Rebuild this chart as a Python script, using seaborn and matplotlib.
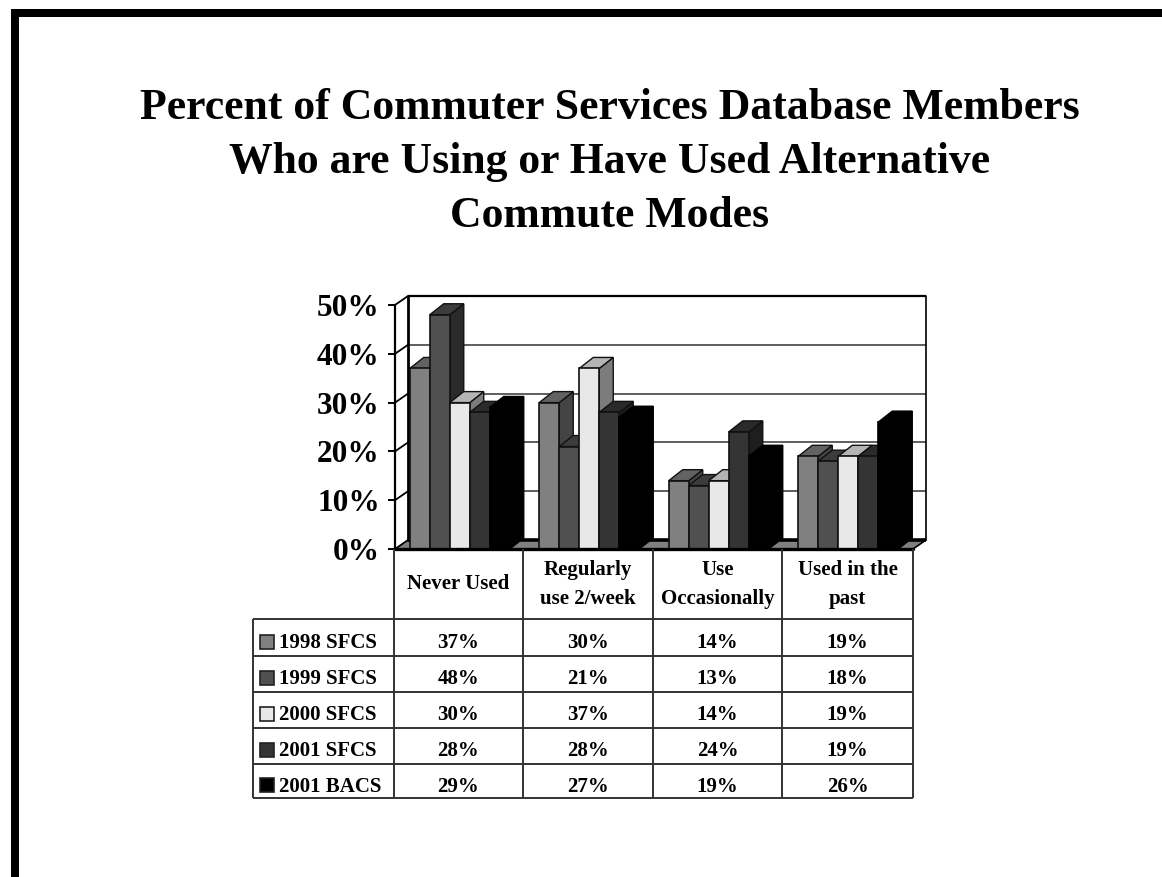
import matplotlib
matplotlib.use("Agg")
import matplotlib.pyplot as plt
import pandas as pd
import seaborn as sns
from matplotlib.patches import Polygon, Rectangle

title_lines = ["Percent of Commuter Services Database Members",
               "Who are Using or Have Used Alternative",
               "Commute Modes"]
categories = ["Never Used", "Regularly\nuse 2/week", "Use\nOccasionally", "Used in the\npast"]
series_names = ["1998 SFCS", "1999 SFCS", "2000 SFCS", "2001 SFCS", "2001 BACS"]
s1998 = [37, 30, 14, 19]
s1999 = [48, 21, 13, 18]
s2000 = [30, 37, 14, 19]
s2001 = [28, 28, 24, 19]
b2001 = [29, 27, 19, 26]
all_series = [s1998, s1999, s2000, s2001, b2001]
yticks = [0, 10, 20, 30, 40, 50]

front = ["#808080", "#505050", "#e8e8e8", "#343434", "#000000"]
top = ["#626262", "#3c3c3c", "#b4b4b4", "#2a2a2a", "#000000"]
side = ["#444444", "#2a2a2a", "#7c7c7c", "#1e1e1e", "#000000"]
edge = ["#111111", "#111111", "#111111", "#111111", "#000000"]

W, H = 1162, 877
sns.set_style("white")
plt.rcParams["font.family"] = ["Liberation Serif", "DejaVu Serif"]
plt.rcParams["font.weight"] = "bold"

df = pd.DataFrame({
    "cat": [c for _ in series_names for c in categories],
    "series": [n for n in series_names for _ in categories],
    "val": [v for s in all_series for v in s],
})

fig = plt.figure(figsize=(W / 100, H / 100), dpi=100, facecolor="white")
L, R, T, B = 395, 913, 305, 549
ax = fig.add_axes([L / W, 1 - B / H, (R - L) / W, (B - T) / H])
sns.barplot(data=df, x="cat", y="val", hue="series", order=categories,
            hue_order=series_names, palette=front, width=100 / 129.5, gap=0,
            saturation=1, legend=False, ax=ax, edgecolor="#111111", linewidth=1.2)
ax.set_xlim(-0.5, 3.5)
ax.set_ylim(0, 50)
ax.patch.set_alpha(0)
ax.set_xlabel("")
ax.set_ylabel("")
ax.set_xticks([])
ax.set_yticks(yticks)
ax.set_yticklabels([f"{t}%" for t in yticks], fontsize=22.5, fontweight="bold", color="black")
ax.tick_params(axis="y", left=True, length=5, width=1.4, color="black", pad=6)
for name in ["top", "right", "bottom"]:
    ax.spines[name].set_visible(False)
ax.spines["left"].set_linewidth(1.6)
ax.spines["left"].set_color("black")

px_x = (R - L) / 4
px_y = (B - T) / 50
dx, dy = 13 / px_x, 9 / px_y
bdx, bdy = 14 / px_x, 11 / px_y
x0, x1 = -0.5, 3.5

# floor and back wall
ax.add_patch(Polygon([(x0, 0), (x0 + dx, dy), (x1 + dx, dy), (x1, 0)], closed=True,
                     facecolor="#808080", edgecolor="none", zorder=0.5, clip_on=False))
for t in yticks:
    col, lw = ("black", 1.6) if t in (0, 50) else ("#333333", 1.1)
    ax.plot([x0 + dx, x1 + dx], [t + dy, t + dy], color=col, lw=lw + (1 if t == 0 else 0),
            zorder=1, clip_on=False, solid_capstyle="butt")
    ax.plot([x0, x0 + dx], [t, t + dy], color="black", lw=1.3, zorder=1, clip_on=False)
ax.plot([x0 + dx, x0 + dx], [dy, 50 + dy], color="black", lw=2, zorder=1, clip_on=False)
ax.plot([x1 + dx, x1 + dx], [dy, 50 + dy], color="black", lw=1.2, zorder=1, clip_on=False)
ax.plot([x1, x1 + dx], [0, dy], color="black", lw=1.2, zorder=1, clip_on=False)
ax.plot([x0, x1], [0, 0], color="black", lw=2.4, zorder=20, clip_on=False)

# 3-D faces built from the bars the library drew
for i, cont in enumerate(ax.containers):
    z = 3 + i
    for bar in cont:
        bx, bw, bh = bar.get_x(), bar.get_width(), bar.get_height()
        bar.set_zorder(z + 0.5)
        bar.set_edgecolor(edge[i])
        ax.add_patch(Polygon([(bx + bw, 0), (bx + bw + bdx, bdy), (bx + bw + bdx, bh + bdy), (bx + bw, bh)],
                             closed=True, facecolor=side[i], edgecolor=edge[i], lw=1, zorder=z,
                             clip_on=False))
        ax.add_patch(Polygon([(bx, bh), (bx + bdx, bh + bdy), (bx + bw + bdx, bh + bdy), (bx + bw, bh)],
                             closed=True, facecolor=top[i], edgecolor=edge[i], lw=1, zorder=z,
                             clip_on=False))

# overlay in image pixels: slide border, title, data table
ov = fig.add_axes([0, 0, 1, 1], zorder=5)
ov.set_xlim(0, W)
ov.set_ylim(H, 0)
ov.axis("off")
ov.patch.set_alpha(0)
ov.add_patch(Rectangle((11, 9), W - 11, 8, facecolor="black", edgecolor="none"))
ov.add_patch(Rectangle((11, 9), 8, H - 9, facecolor="black", edgecolor="none"))
for line, base in zip(title_lines, [119, 173, 227]):
    ov.text(610, base, line, ha="center", va="baseline", fontsize=31.5, fontweight="bold", color="black")

cols = [394, 523, 653, 782, 913]
rows = [619, 656, 692, 728, 764, 798]
left = 253
lc = "#333333"
for x in cols:
    ov.plot([x, x], [549, rows[-1]], color=lc, lw=1.4, solid_capstyle="butt")
ov.plot([left, left], [rows[0], rows[-1]], color=lc, lw=1.4, solid_capstyle="butt")
for y in rows:
    ov.plot([left, cols[-1]], [y, y], color=lc, lw=1.4, solid_capstyle="butt")

for j, c in enumerate(categories):
    parts = c.split("\n")
    bases = [575, 604] if len(parts) == 2 else [589]
    for part, base in zip(parts, bases):
        ov.text((cols[j] + cols[j + 1]) / 2, base, part, ha="center", va="baseline", fontsize=15,
                fontweight="bold", color="black")
for i, n in enumerate(series_names):
    yc = (rows[i] + rows[i + 1]) / 2
    base = yc + 10.5
    ov.add_patch(Rectangle((260, yc - 3), 14, 14, facecolor=front[i], edgecolor="#222222", lw=1.2))
    ov.text(279, base, n, ha="left", va="baseline", fontsize=15, fontweight="bold", color="black")
    for j, v in enumerate(all_series[i]):
        ov.text((cols[j] + cols[j + 1]) / 2, base, f"{v}%", ha="center", va="baseline",
                fontsize=15, fontweight="bold", color="black")

fig.savefig("out.png", dpi=100, facecolor="white")
